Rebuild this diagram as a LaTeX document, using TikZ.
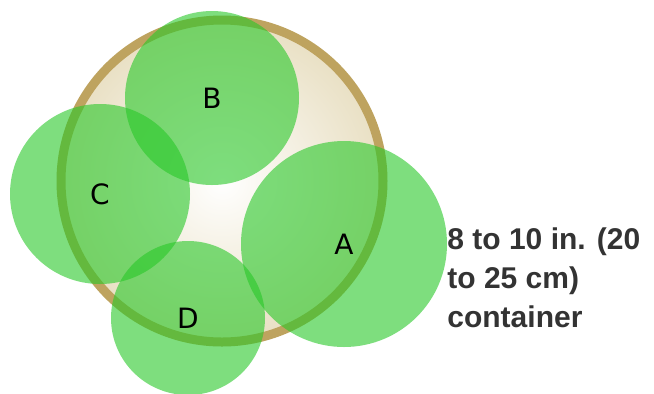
\documentclass[tikz,border=0pt]{standalone}
\usepackage{fontspec}
\setmainfont{Liberation Sans}
\newfontfamily\letterfont{DejaVu Sans}
\definecolor{leaf}{RGB}{40,200,40}
\definecolor{rim}{RGB}{190,163,95}
\definecolor{soil}{RGB}{233,224,196}
\definecolor{caption}{RGB}{51,51,51}
\begin{document}
\begin{tikzpicture}[x = 0.5pt, y = -0.5pt,
        plant/.style = {circle, fill = leaf, fill opacity = 0.6, text opacity = 1, inner sep = 0pt, minimum size = #1, font = \letterfont\fontsize{14}{16}\selectfont}]
    \useasboundingbox (0, 0) rectangle (654, 393);
    \node [circle, draw = rim, line width = 4.5pt, inner color = white, outer color = soil, minimum size = 161pt] (pot) at (222, 181) {};
    \node [plant = 87pt] (B) at (212, 98) {B};
    \node [plant = 90pt] (C) at (100, 194) {C};
    \node [plant = 103pt] (A) at (344, 244) {A};
    \node [plant = 77pt] (D) at (188, 318) {D};
    \node [anchor = north west, align = left, inner sep = 0pt, text = caption, font = \bfseries\fontsize{15}{19.5}\selectfont] (size) at (447, 227) {8 to 10 in. (20\\to 25 cm)\\container};
\end{tikzpicture}
\end{document}
